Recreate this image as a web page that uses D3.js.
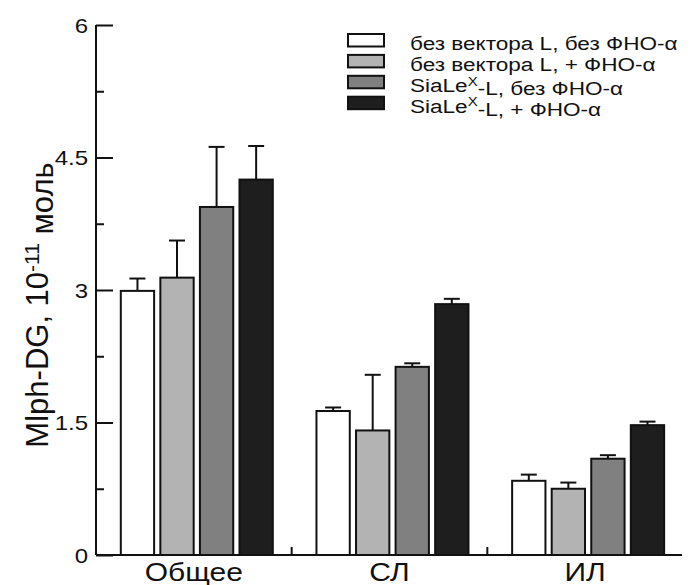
<!DOCTYPE html>
<meta charset="utf-8">
<style>
body { margin: 0; background: #fff; }
text { font-family: "Liberation Sans", Arial, sans-serif; fill: #111; }
</style>
<svg width="692" height="585"></svg>
<script src="https://d3js.org/d3.v7.min.js"></script>
<script>

var categories = ["Общее", "СЛ", "ИЛ"];
var seriesNames = ["без вектора L, без ФНО-α", "без вектора L, + ФНО-α", "SiaLeX-L, без ФНО-α", "SiaLeX-L, + ФНО-α"];
var seriesColors = ["#ffffff", "#b3b3b3", "#808080", "#1e1e1e"];
// means, one row per series (Общее, СЛ, ИЛ)
var means = [
  [2.99, 1.63, 0.84],
  [3.14, 1.41, 0.75],
  [3.94, 2.13, 1.09],
  [4.25, 2.84, 1.47]
];
// upper error (SD) for each bar
var errors = [
  [0.14, 0.04, 0.07],
  [0.42, 0.63, 0.07],
  [0.68, 0.04, 0.04],
  [0.38, 0.06, 0.04]
];
var yTicks = [0, 1.5, 3, 4.5, 6];
var yMinor = [0.75, 2.25, 3.75, 5.25];

var svg = d3.select("svg");
var sx = 1.2; // the source picture is stretched sideways

var x = d3.scaleBand().domain(categories).range([96, 683]);
var xs = d3.scaleBand().domain(d3.range(4)).range([24.8, 24.8 + 4 * 38]).paddingInner(6 / 38);
var y = d3.scaleLinear().domain([0, 6]).range([555, 25]);

var data = [];
categories.forEach(function(c, ci) {
  seriesNames.forEach(function(s, si) {
    data.push({cat: c, s: si, v: means[si][ci], e: errors[si][ci]});
  });
});

// bars
svg.selectAll(".bar")
    .data(data)
  .enter().append("rect")
    .attr("class", "bar")
    .attr("x", function(d) { return x(d.cat) + xs(d.s); })
    .attr("y", function(d) { return y(d.v); })
    .attr("width", xs.bandwidth())
    .attr("height", function(d) { return y(0) - y(d.v); })
    .attr("fill", function(d) { return seriesColors[d.s]; })
    .attr("stroke", "#111")
    .attr("stroke-width", 2);

// error bars
var eb = svg.selectAll(".err")
    .data(data)
  .enter().append("g")
    .attr("class", "err")
    .attr("stroke", "#111")
    .attr("stroke-width", 2);
eb.append("line")
    .attr("x1", function(d) { return x(d.cat) + xs(d.s) + xs.bandwidth() / 2; })
    .attr("x2", function(d) { return x(d.cat) + xs(d.s) + xs.bandwidth() / 2; })
    .attr("y1", function(d) { return y(d.v); })
    .attr("y2", function(d) { return y(d.v + d.e); });
eb.append("line")
    .attr("x1", function(d) { return x(d.cat) + xs(d.s) + xs.bandwidth() / 2 - 8; })
    .attr("x2", function(d) { return x(d.cat) + xs(d.s) + xs.bandwidth() / 2 + 8; })
    .attr("y1", function(d) { return y(d.v + d.e); })
    .attr("y2", function(d) { return y(d.v + d.e); });

// y axis
var yAxis = svg.append("g")
    .attr("transform", "translate(96,0)")
    .call(d3.axisRight(y).tickValues(yTicks).tickSize(17).tickFormat(""));
yAxis.select(".domain").attr("d", "M0," + y(6) + "V" + y(0)).attr("stroke-width", 2).attr("stroke", "#111");
yAxis.selectAll(".tick line").attr("stroke-width", 2).attr("stroke", "#111");
svg.append("g")
    .attr("transform", "translate(96,0)")
    .call(d3.axisRight(y).tickValues(yMinor).tickSize(8).tickFormat(""))
    .call(function(g) { g.select(".domain").remove(); })
    .selectAll(".tick line").attr("stroke-width", 2).attr("stroke", "#111");

svg.selectAll(".ylab")
    .data(yTicks)
  .enter().append("text")
    .attr("class", "ylab")
    .attr("transform", function(d) { return "translate(88," + (y(d) + 7.5) + ") scale(" + sx + ",1)"; })
    .attr("text-anchor", "end")
    .style("font-size", "20px")
    .text(function(d) { return d; });

// x axis
var xAxis = svg.append("g")
    .attr("transform", "translate(0,555)")
    .call(d3.axisTop(x).tickSize(0).tickFormat(""));
xAxis.select(".domain").attr("d", "M96,0H682").attr("stroke-width", 2).attr("stroke", "#111");
svg.selectAll(".xtick")
    .data(categories.slice(1))
  .enter().append("line")
    .attr("x1", function(d) { return x(d); })
    .attr("x2", function(d) { return x(d); })
    .attr("y1", 555)
    .attr("y2", 547)
    .attr("stroke", "#111")
    .attr("stroke-width", 2);

svg.selectAll(".xlab")
    .data(categories)
  .enter().append("text")
    .attr("class", "xlab")
    .attr("transform", function(d) { return "translate(" + (x(d) + x.bandwidth() / 2) + ",581) scale(" + sx + ",1)"; })
    .attr("text-anchor", "middle")
    .style("font-size", "25px")
    .text(function(d) { return d; });

// y title
var yt = svg.append("text")
    .attr("transform", "translate(48,305) rotate(-90)")
    .attr("text-anchor", "middle")
    .style("font-size", "31px");
yt.append("tspan").text("Mlph-DG, 10");
yt.append("tspan").attr("dy", "-0.45em").style("font-size", "21px").text("-11");
yt.append("tspan").attr("dy", "0.45em").text(" моль");

// legend
var leg = svg.selectAll(".leg")
    .data(seriesNames)
  .enter().append("g")
    .attr("class", "leg")
    .attr("transform", function(d, i) { return "translate(348," + (34 + i * 20.9) + ")"; });
leg.append("rect")
    .attr("width", 36)
    .attr("height", 12.5)
    .attr("fill", function(d, i) { return seriesColors[i]; })
    .attr("stroke", "#111")
    .attr("stroke-width", 2);
leg.append("text")
    .attr("transform", "translate(62,16) scale(" + sx + ",1)")
    .style("font-size", "18.8px")
    .each(function(d) {
      var t = d3.select(this);
      if (d.indexOf("SiaLeX") === 0) {
        t.append("tspan").text("SiaLe");
        t.append("tspan").attr("dy", "-0.5em").style("font-size", "12.5px").text("X");
        t.append("tspan").attr("dy", "0.5em").text(d.slice(6));
      } else {
        t.text(d);
      }
    });

</script>
